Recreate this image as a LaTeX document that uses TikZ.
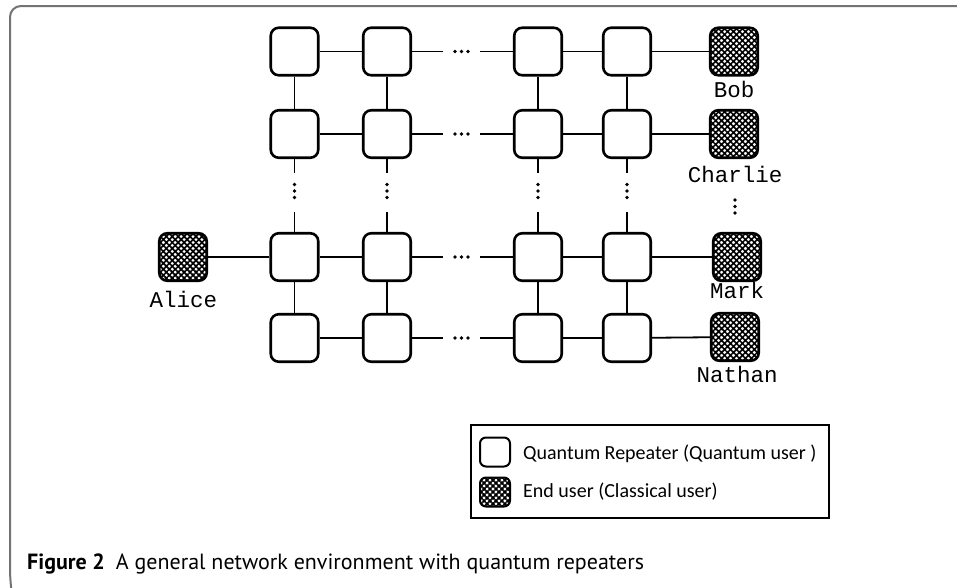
\documentclass[tikz,border=0pt]{standalone}
\usepackage{fontspec}
\setmainfont{Liberation Serif}
\newfontfamily\labelfont{Liberation Mono}
\newfontfamily\legendfont{Carlito}
\newfontfamily\captionfont{PT Sans}
\usetikzlibrary{patterns.meta}

\tikzset{
  hatch/.style={
    pattern={Lines[angle=45,distance=4.2pt,line width=1.7pt]},
    postaction={pattern={Lines[angle=-45,distance=4.2pt,line width=1.7pt]}}},
  repeater/.style={draw, line width=2.6pt, rounded corners=8pt,
    minimum size=47.5pt, inner sep=0pt, fill=white},
  enduser/.style={draw, line width=2.6pt, rounded corners=8pt,
    minimum size=47.5pt, inner sep=0pt, hatch},
  link/.style={line width=1.8pt},
  userlabel/.style={font=\labelfont\fontsize{22.5}{24}\selectfont, anchor=base, inner sep=0pt},
  legendtext/.style={anchor=base west, inner sep=0pt, font=\legendfont\fontsize{20}{22}\selectfont},
  frameline/.style={draw=black!55, line width=2pt},
}

\begin{document}
\begin{tikzpicture}[x=1pt, y=-1pt]
\useasboundingbox (0,0) rectangle (957,587);

% outer frame (top and left edges)
\draw[frameline, rounded corners=11pt] (957,6) -- (10,6) -- (10,580) -- (12,594);

% repeater grid
\foreach \r/\y in {1/51.5, 2/134, 3/257, 4/338}{
  \foreach \c/\x in {1/294.5, 2/387, 3/538, 4/627}{
    \node[repeater] (r\r\c) at (\x,\y) {};
  }
  \coordinate (hl\r) at (443,\y);
  \coordinate (hr\r) at (480,\y);
  \coordinate (hd\r) at (461.5,\y);
}

% end users
\node[enduser] (bob) at (734,51.5) {};
\node[enduser] (charlie) at (734,134) {};
\node[enduser] (mark) at (737,257) {};
\node[enduser] (nathan) at (735,337) {};
\node[enduser] (alice) at (183,257) {};

\node[userlabel] (bobl) at (734,97) {Bob};
\node[userlabel] (charliel) at (735,182) {Charlie};
\node[userlabel] (markl) at (737,298) {Mark};
\node[userlabel] (nathanl) at (737,382) {Nathan};
\node[userlabel] (alicel) at (183.5,307) {Alice};

% horizontal links
\foreach \r in {1,2,3,4}{
  \draw[link] (r\r1) -- (r\r2);
  \draw[link] (r\r2.east) -- (hl\r);
  \draw[link] (hr\r) -- (r\r3.west);
  \draw[link] (r\r3) -- (r\r4);
  \fill (hd\r) ++(-6.5,0) circle (1.8) ++(6.5,0) circle (1.8) ++(6.5,0) circle (1.8);
}
\draw[link] (r14) -- (bob);
\draw[link] (r24) -- (charlie);
\draw[link] (r34) -- (mark);
\draw[link] (r44) -- (nathan);
\draw[link] (alice) -- (r31);

% vertical links
\foreach \c/\x in {1/294.5, 2/387, 3/538, 4/627}{
  \draw[link] (r1\c) -- (r2\c);
  \draw[link] (r3\c) -- (r4\c);
  \coordinate (vt\c) at (\x,173);
  \coordinate (vb\c) at (\x,212);
  \coordinate (vd\c) at (\x,191);
  \draw[link] (r2\c.south) -- (vt\c);
  \draw[link] (vb\c) -- (r3\c.north);
  \fill (vd\c) ++(0,-6.5) circle (1.8) ++(0,6.5) circle (1.8) ++(0,6.5) circle (1.8);
}
\coordinate (ud) at (735,206.5);
\fill (ud) ++(0,-6.5) circle (1.8) ++(0,6.5) circle (1.8) ++(0,6.5) circle (1.8);

% legend
\node[draw, line width=1.8pt, minimum width=358pt, minimum height=93pt, inner sep=0pt]
  (legend) at (650,471.5) {};
\node[draw, line width=2pt, rounded corners=6pt, minimum width=30pt, minimum height=29pt, inner sep=0pt]
  (legrep) at (495,452) {};
\node[draw, line width=2pt, rounded corners=6pt, minimum width=30pt, minimum height=29pt, inner sep=0pt, hatch]
  (legend-user) at (495,492) {};
\node[legendtext] (legrept) at (523,459) {Quantum Repeater (Quantum user )};
\node[legendtext] (legusert) at (523,497) {End user (Classical user)};

% caption
\node[anchor=base west, inner sep=0pt, font=\captionfont\fontsize{22}{24}\selectfont]
  (caption) at (27,569) {\textbf{Figure 2}\hspace{11pt}A general network environment with quantum repeaters};
\end{tikzpicture}
\end{document}
